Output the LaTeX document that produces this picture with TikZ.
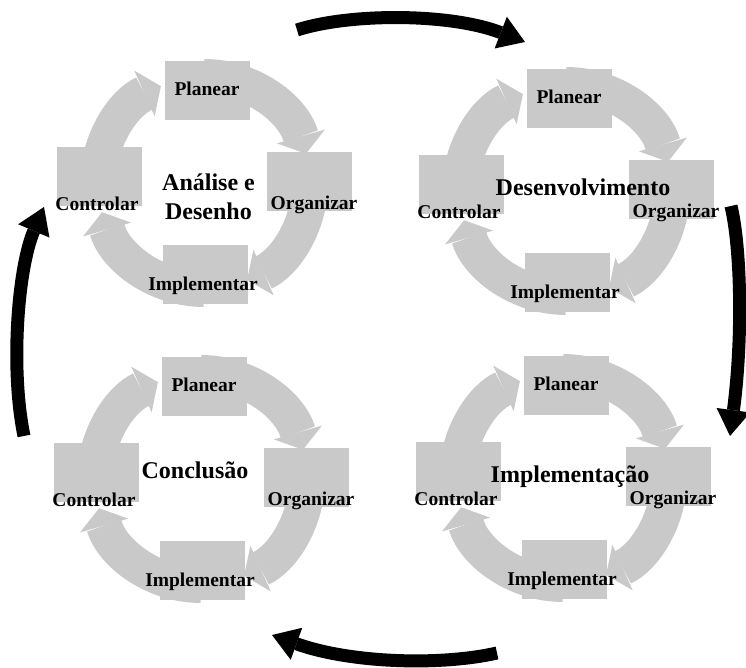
\documentclass[tikz,border=0pt]{standalone}
\usepackage{fontspec}
\setmainfont{Liberation Serif}
\usetikzlibrary{arrows.meta}
\definecolor{g1}{HTML}{C9C9C9}
\tikzstyle{ring}=[draw=g1,line width=36pt,-{Triangle[width=50pt,length=18pt,line width=0pt]}]
\tikzstyle{task box}=[fill=g1,minimum width=85pt,minimum height=59pt,inner sep=0pt]
\tikzstyle{task}=[font=\fontsize{19.5}{22}\selectfont\bfseries,inner sep=0pt]
\tikzstyle{phase}=[font=\fontsize{24}{29}\selectfont\bfseries,align=center,inner sep=0pt]
\tikzstyle{big arrow}=[line width=13pt,-{Triangle[width=34pt,length=26pt,line width=0pt]}]
\newcommand{\mycycle}[5]
{ % #1 = name , #2 = centre , #3 = phase , #4 #5 = shift of phase
  \begin{scope}[shift={(#2)}]
  \draw[ring] (90:106) arc[start angle=90,end angle=16,radius=106];
  \draw[ring] (0:106) arc[start angle=0,end angle=-66,radius=106];
  \draw[ring] (-90:106) arc[start angle=-90,end angle=-164,radius=106];
  \draw[ring] (180:106) arc[start angle=180,end angle=114,radius=106];
  \node[task box] (#1-p) at (3,92) {};
  \node[task box] (#1-o) at (105,1) {};
  \node[task box] (#1-i) at (1,-92) {};
  \node[task box] (#1-c) at (-105,6) {};
  \node[task] (#1-pt) at (3,94) {Planear};
  \node[task] (#1-ot) at (110,-22) {Organizar};
  \node[task] (#1-it) at (-1,-103) {Implementar};
  \node[task] (#1-ct) at (-107,-21) {Controlar};
  \node[phase] (#1-f) at (#4,#5) {#3};
  \end{scope}
}

\begin{document}
\begin{tikzpicture}[x=1pt,y=1pt]
  \useasboundingbox (0,0) rectangle (746,668);
  \mycycle{a}{204,485}{Análise e\\Desenho}{4.5}{-14}
  \mycycle{d}{566,477}{Desenvolvimento}{17}{4}
  \mycycle{i}{563,190}{Implementação}{7}{1}
  \mycycle{c}{201,189}{Conclusão}{-6}{9}
  % big arrows, clockwise
  \coordinate (t1) at (297,638);
  \coordinate (h1) at (525,626);
  \coordinate (t2) at (731,462);
  \coordinate (h2) at (730,232);
  \coordinate (t3) at (497,15);
  \coordinate (h3) at (272,33);
  \coordinate (t4) at (24,232);
  \coordinate (h4) at (44,461);
  \draw[big arrow] (t1) .. controls (350,655) and (450,655) .. (h1);
  \draw[big arrow] (t2) .. controls (741,420) and (743,330) .. (h2);
  \draw[big arrow] (t3) .. controls (440,2) and (350,5) .. (h3);
  \draw[big arrow] (t4) .. controls (10,300) and (18,400) .. (h4);
\end{tikzpicture}
\end{document}
